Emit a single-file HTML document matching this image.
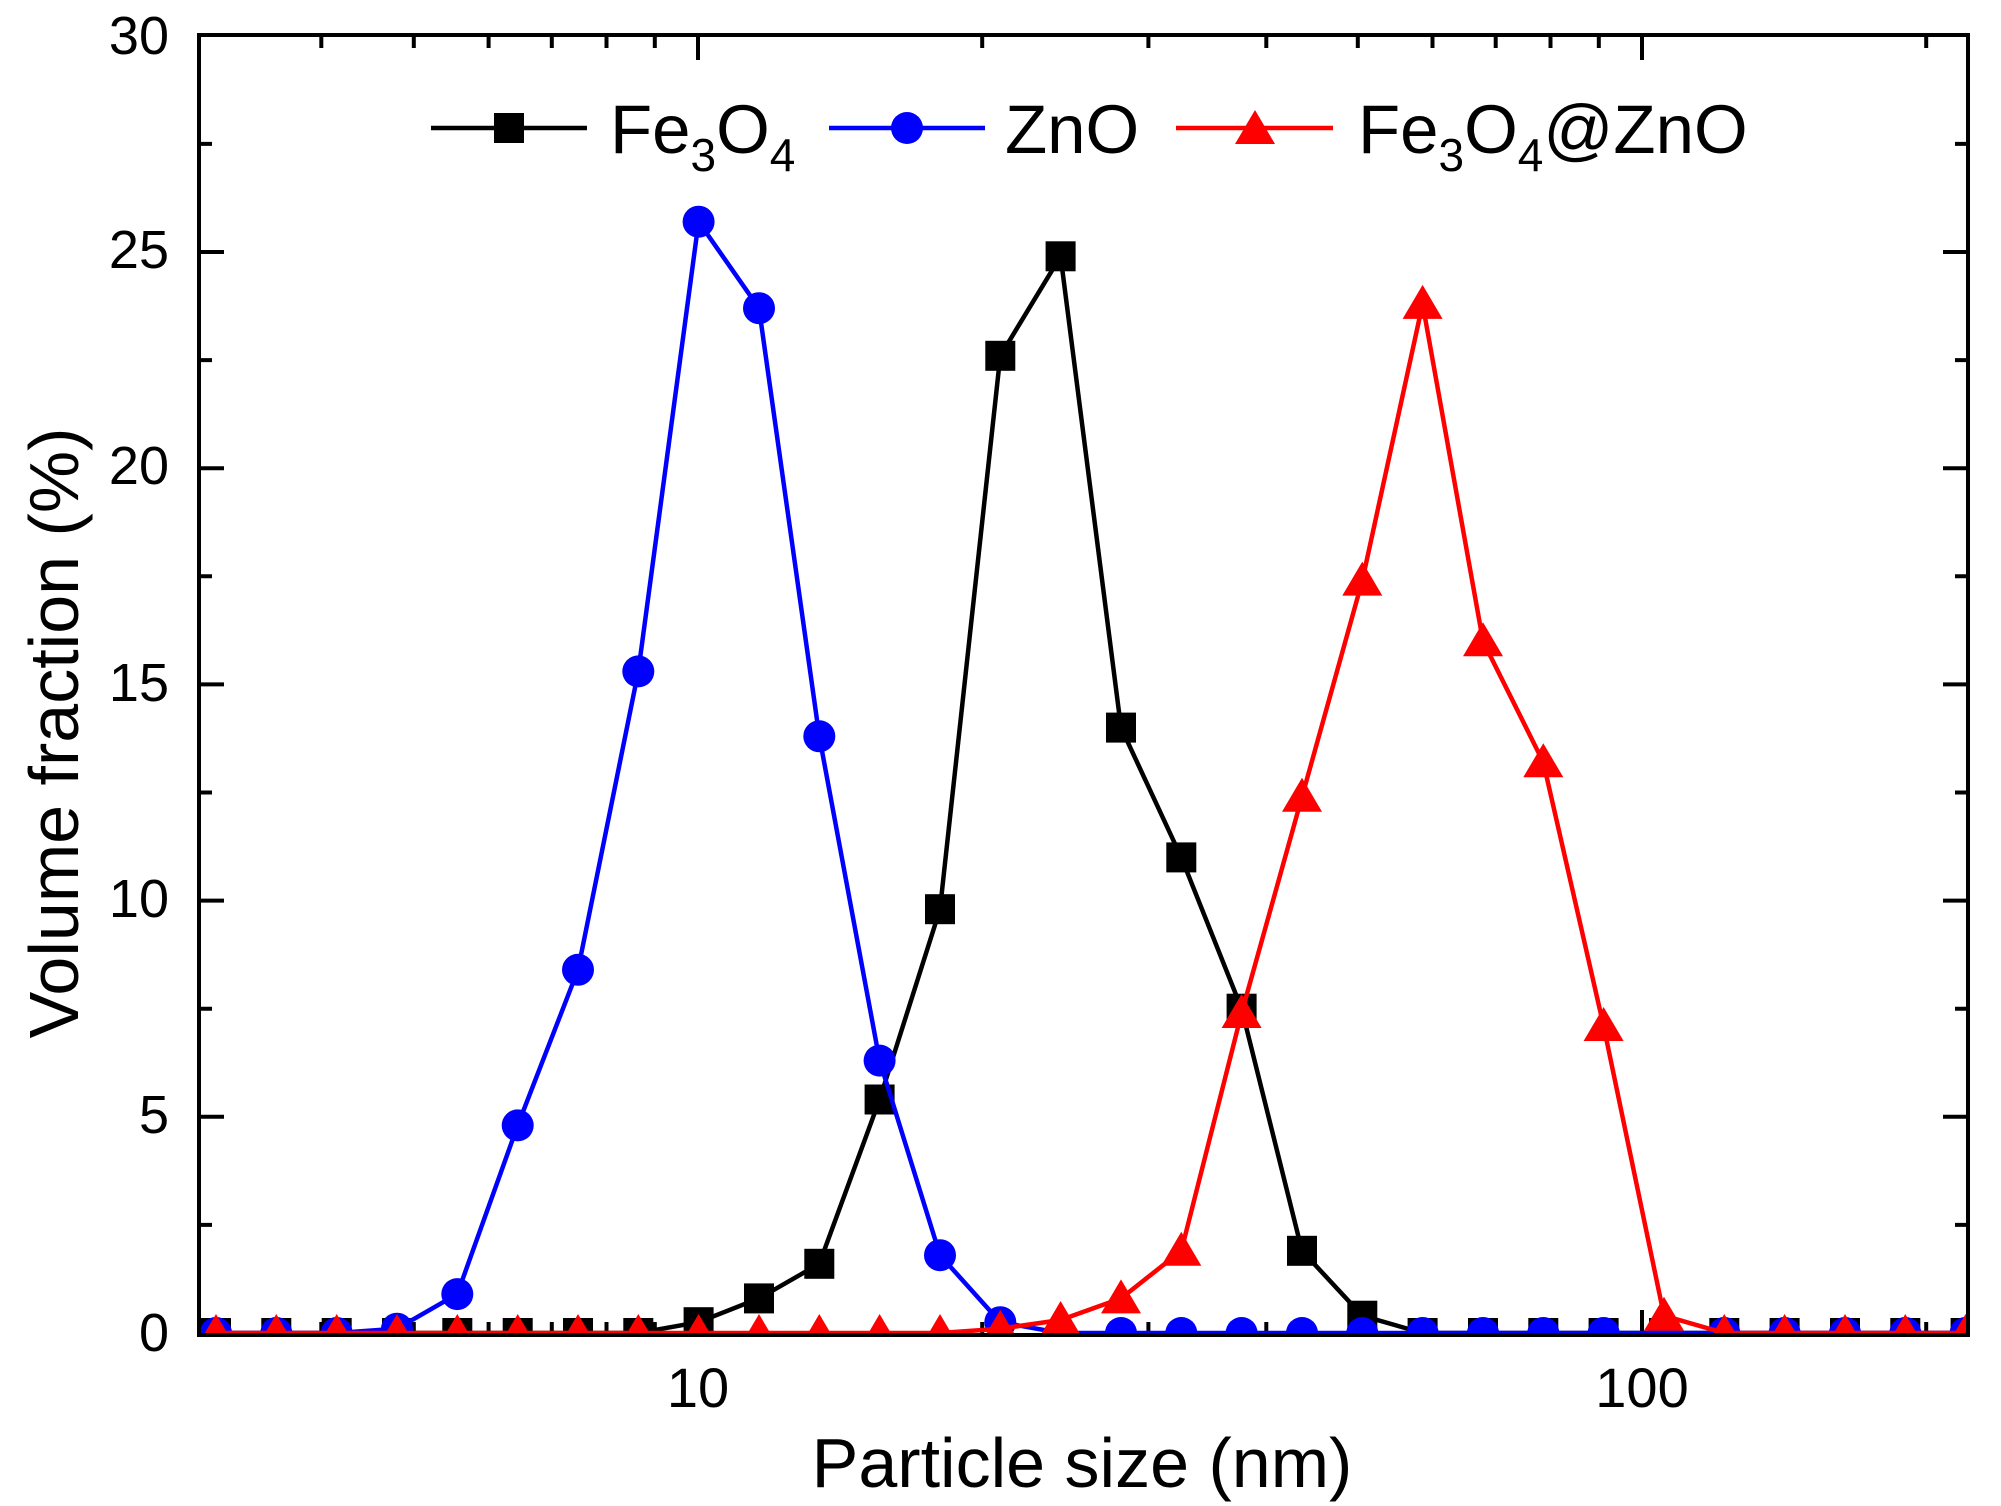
<!DOCTYPE html>
<html><head><style>html,body{margin:0;padding:0;background:#fff}svg{display:block}</style></head>
<body>
<svg width="2001" height="1506" viewBox="0 0 2001 1506" xmlns="http://www.w3.org/2000/svg" font-family="Liberation Sans, Arial, sans-serif">
<defs>
<clipPath id="cp"><rect x="199" y="35" width="1769" height="1298"/></clipPath>
<marker id="sq" markerUnits="userSpaceOnUse" markerWidth="30" markerHeight="30" refX="15" refY="15" overflow="visible"><rect width="30" height="30" fill="#000"/></marker>
<marker id="ci" markerUnits="userSpaceOnUse" markerWidth="32" markerHeight="32" refX="16" refY="16" overflow="visible"><circle cx="16" cy="16" r="16" fill="#00f"/></marker>
<marker id="tr" markerUnits="userSpaceOnUse" markerWidth="40" markerHeight="34" refX="20" refY="19" overflow="visible"><polygon points="20,0 40,34 0,34" fill="#f00"/></marker>
</defs>
<rect width="2001" height="1506" fill="#fff"/>
<g stroke="#000" stroke-width="4">
<path d="M199 1224.9h13M199 1116.8h25M199 1008.7h13M199 900.6h25M199 792.5h13M199 684.4h25M199 576.3h13M199 468.2h25M199 360.1h13M199 252h25M199 143.9h13
M1968 1224.9h-13M1968 1116.8h-25M1968 1008.7h-13M1968 900.6h-25M1968 792.5h-13M1968 684.4h-25M1968 576.3h-13M1968 468.2h-25M1968 360.1h-13M1968 252h-25M1968 143.9h-13"/>
<path d="M321.3 1335v-13M413.8 1335v-13M488.6 1335v-13M551.8 1335v-13M606.5 1335v-13M654.8 1335v-13M698 1335v-25M982.2 1335v-13M1148.4 1335v-13M1266.3 1335v-13M1357.8 1335v-13M1432.5 1335v-13M1495.7 1335v-13M1550.5 1335v-13M1598.8 1335v-13M1642 1335v-25M1926.2 1335v-13
M321.3 35v13M413.8 35v13M488.6 35v13M551.8 35v13M606.5 35v13M654.8 35v13M698 35v25M982.2 35v13M1148.4 35v13M1266.3 35v13M1357.8 35v13M1432.5 35v13M1495.7 35v13M1550.5 35v13M1598.8 35v13M1642 35v25M1926.2 35v13"/>
</g>
<g fill="none" stroke-width="4.5" stroke-linejoin="round" clip-path="url(#cp)">
<polyline stroke="#000" marker-start="url(#sq)" marker-mid="url(#sq)" marker-end="url(#sq)" points="216,1333 276.3,1333 336.7,1333 397,1333 457.3,1333 517.7,1333 578,1333 638.3,1333 698.6,1322.2 759,1298.4 819.3,1263.8 879.6,1099.5 940,909.2 1000.3,355.8 1060.6,256.3 1121,727.6 1181.3,857.4 1241.6,1008.7 1302,1250.8 1362.3,1315.7 1422.6,1333 1483,1333 1543.3,1333 1603.6,1333 1664,1333 1724.3,1333 1784.6,1333 1845,1333 1905.3,1333 1965.6,1333"/>
<polyline stroke="#00f" marker-start="url(#ci)" marker-mid="url(#ci)" marker-end="url(#ci)" points="216,1333 276.3,1333 336.7,1333 397,1328.7 457.3,1294.1 517.7,1125.4 578,969.8 638.3,671.4 698.6,221.7 759,308.2 819.3,736.3 879.6,1060.6 940,1255.2 1000.3,1322.2 1060.6,1333 1121,1333 1181.3,1333 1241.6,1333 1302,1333 1362.3,1333 1422.6,1333 1483,1333 1543.3,1333 1603.6,1333 1664,1333 1724.3,1333 1784.6,1333 1845,1333 1905.3,1333 1965.6,1333"/>
<polyline stroke="#f00" marker-start="url(#tr)" marker-mid="url(#tr)" marker-end="url(#tr)" points="216,1333 276.3,1333 336.7,1333 397,1333 457.3,1333 517.7,1333 578,1333 638.3,1333 698.6,1333 759,1333 819.3,1333 879.6,1333 940,1333 1000.3,1328.7 1060.6,1320 1121,1298.4 1181.3,1250.8 1241.6,1013 1302,796.8 1362.3,580.6 1422.6,303.9 1483,641.2 1543.3,762.2 1603.6,1026 1664,1315.7 1724.3,1333 1784.6,1333 1845,1333 1905.3,1333 1965.6,1333"/>
</g>
<rect x="199" y="35" width="1769" height="1300" fill="none" stroke="#000" stroke-width="4"/>
<g font-size="54" fill="#000" text-anchor="end">
<text x="169" y="1351">0</text><text x="169" y="1133">5</text><text x="169" y="917">10</text>
<text x="169" y="701">15</text><text x="169" y="484">20</text><text x="169" y="268">25</text><text x="169" y="54">30</text>
</g>
<g font-size="56" fill="#000" text-anchor="middle">
<text x="698" y="1407">10</text><text x="1642" y="1407">100</text>
</g>
<text x="1082" y="1487" font-size="70" text-anchor="middle">Particle size (nm)</text>
<text transform="translate(78,733) rotate(-90)" font-size="70" text-anchor="middle">Volume fraction (%)</text>
<g font-size="69" fill="#000">
<line x1="431" y1="128" x2="587" y2="128" stroke="#000" stroke-width="4.5"/>
<rect x="494" y="113" width="30" height="30" fill="#000"/>
<text x="610" y="153">Fe<tspan font-size="46" dy="18">3</tspan><tspan dy="-18">O</tspan><tspan font-size="46" dy="18">4</tspan></text>
<line x1="829" y1="128" x2="985" y2="128" stroke="#00f" stroke-width="4.5"/>
<circle cx="907" cy="128" r="16" fill="#00f"/>
<text x="1005" y="153">ZnO</text>
<line x1="1176" y1="128" x2="1333" y2="128" stroke="#f00" stroke-width="4.5"/>
<polygon points="1255,110 1275,144 1235,144" fill="#f00"/>
<text x="1358" y="153">Fe<tspan font-size="46" dy="18">3</tspan><tspan dy="-18">O</tspan><tspan font-size="46" dy="18">4</tspan><tspan dy="-18">@ZnO</tspan></text>
</g>
</svg>
</body></html>
